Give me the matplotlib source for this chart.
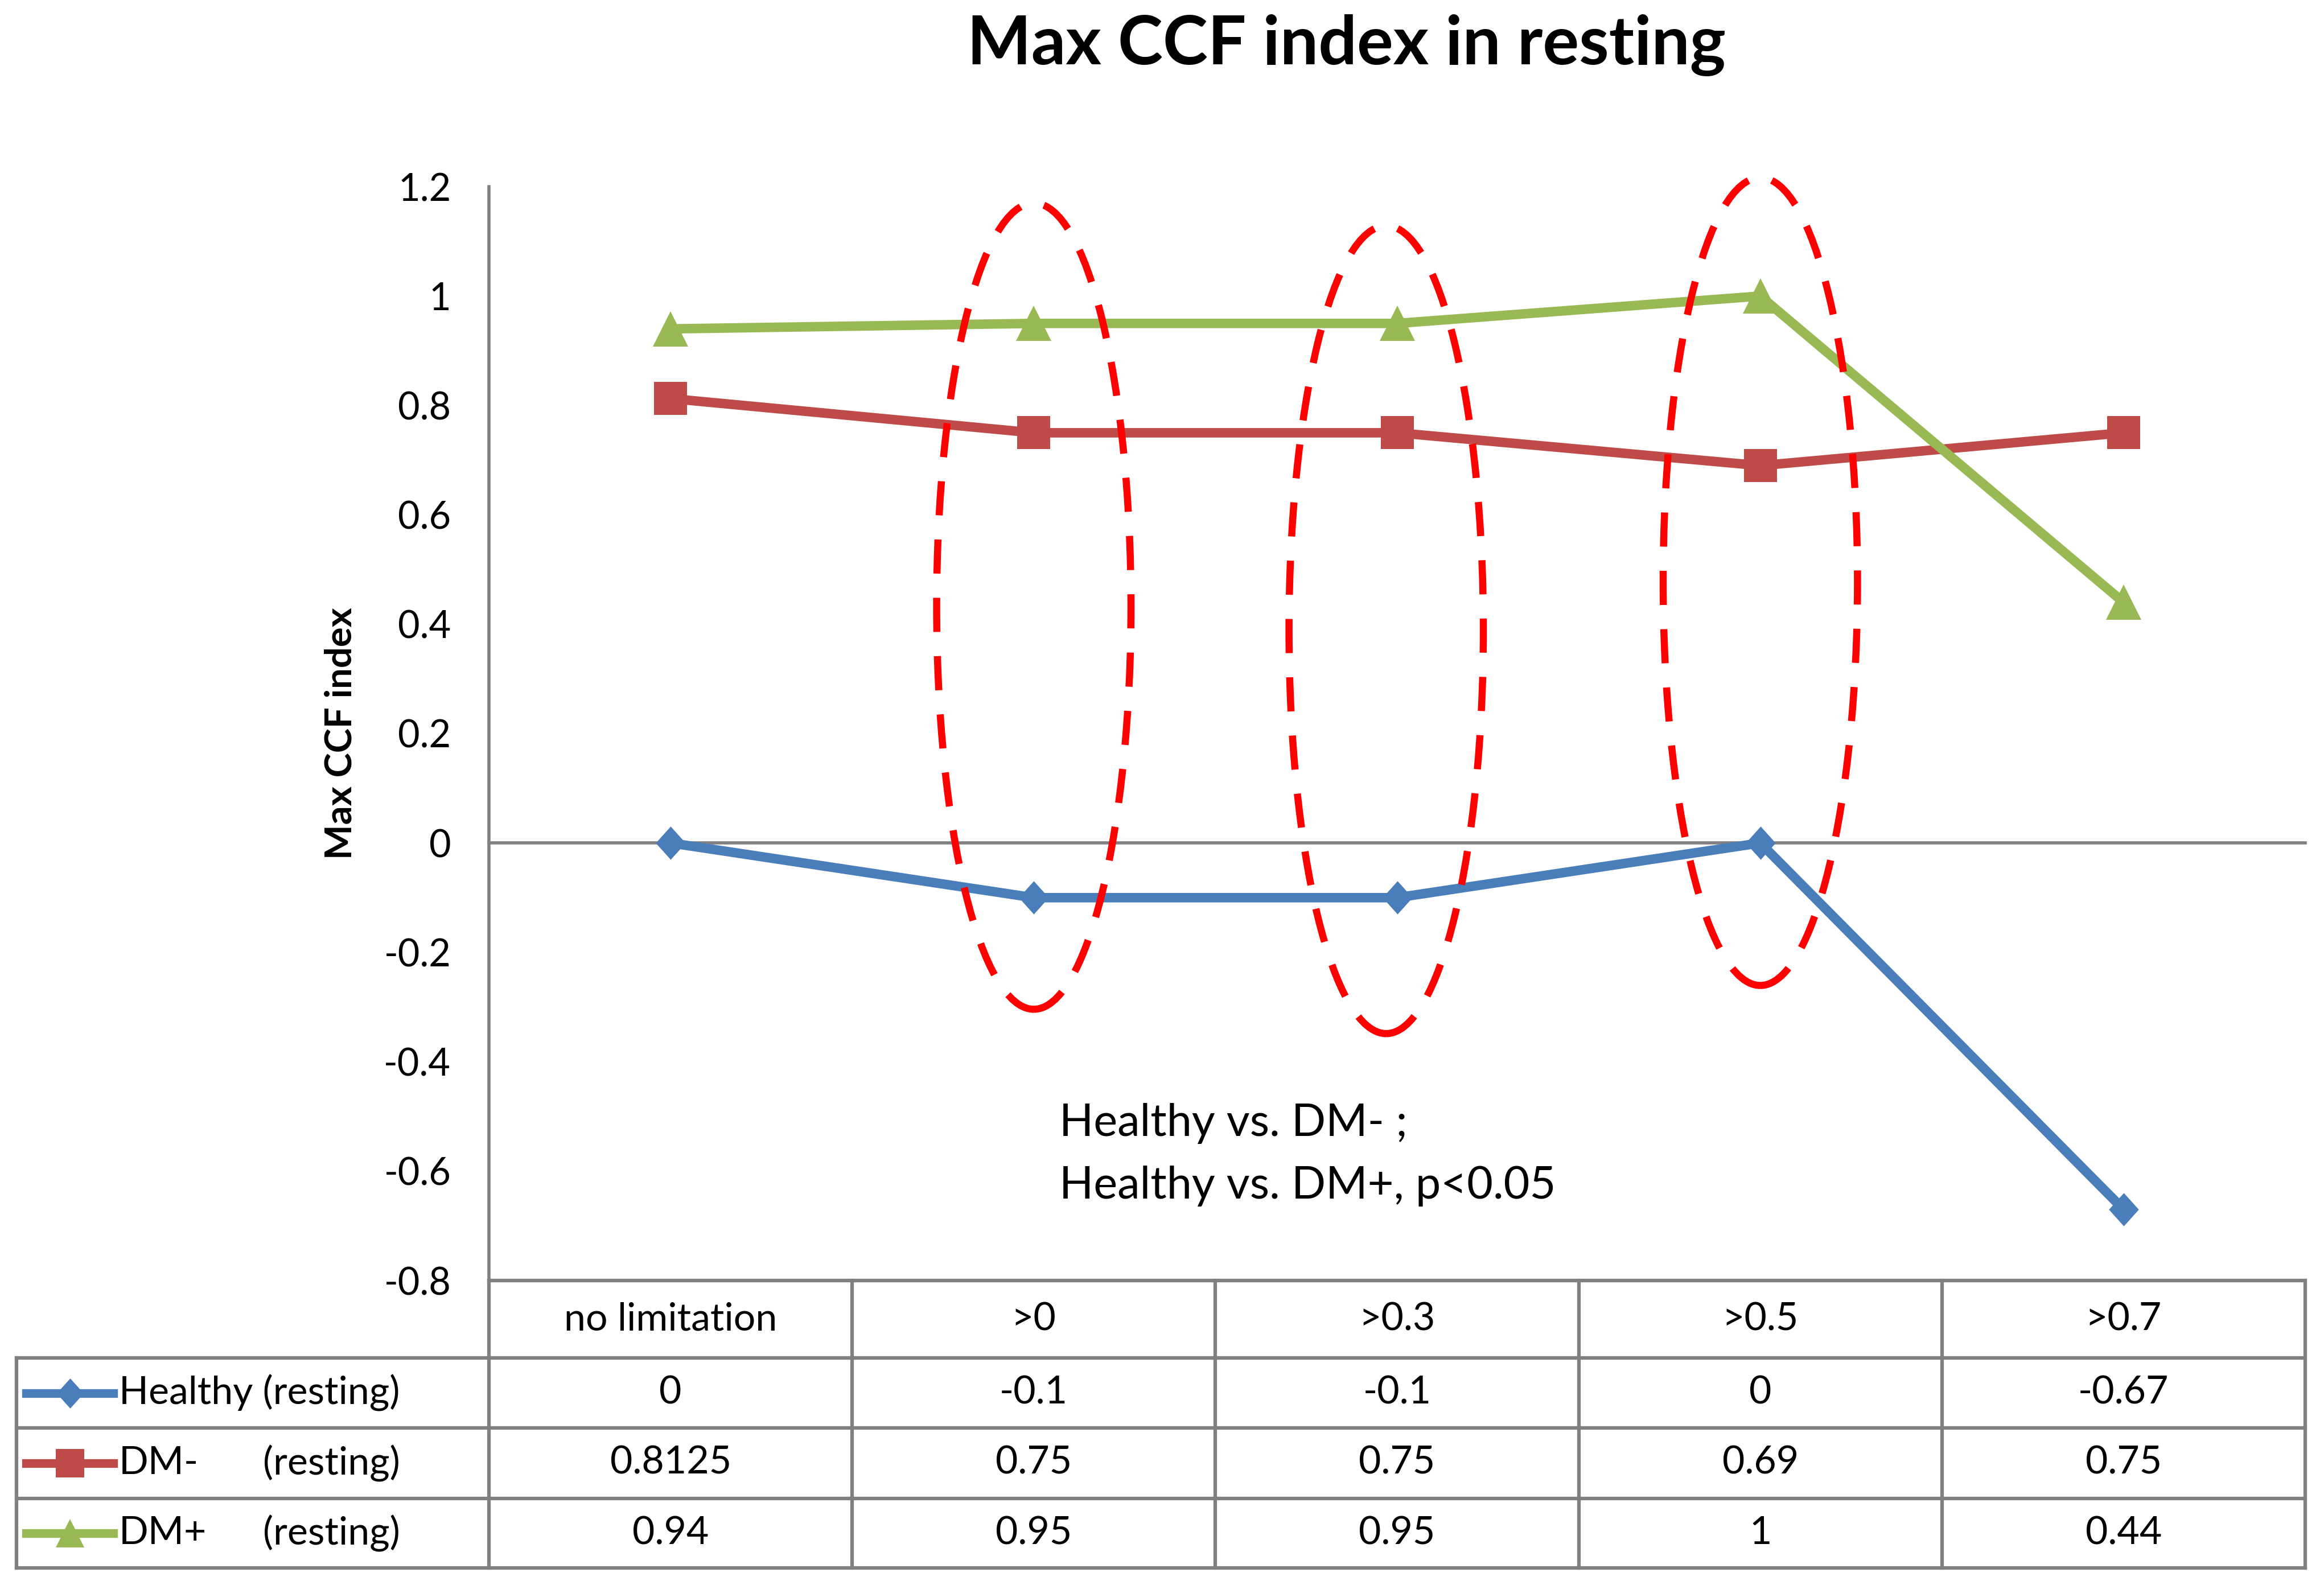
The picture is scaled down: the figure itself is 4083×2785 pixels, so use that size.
import matplotlib
matplotlib.use("Agg")
import matplotlib.pyplot as plt
from matplotlib.patches import Ellipse

plt.rcParams['font.family'] = ['Lato', 'DejaVu Sans']

# ---- data ----
categories = ["no limitation", ">0", ">0.3", ">0.5", ">0.7"]
healthy = [0, -0.1, -0.1, 0, -0.67]
dm_minus = [0.8125, 0.75, 0.75, 0.69, 0.75]
dm_plus = [0.94, 0.95, 0.95, 1, 0.44]
healthy_lbl = ["0", "-0.1", "-0.1", "0", "-0.67"]
dm_minus_lbl = ["0.8125", "0.75", "0.75", "0.69", "0.75"]
dm_plus_lbl = ["0.94", "0.95", "0.95", "1", "0.44"]
yticks = [-0.8, -0.6, -0.4, -0.2, 0, 0.2, 0.4, 0.6, 0.8, 1, 1.2]
ytick_labels = ["-0.8", "-0.6", "-0.4", "-0.2", "0", "0.2", "0.4", "0.6", "0.8", "1", "1.2"]
# highlighted groups (category index, center y, height)
ell_x = [1, 1.97, 3]
ell_y = [0.433, 0.39, 0.478]
ell_h = [1.474, 1.477, 1.477]

C_BLUE = "#4A7EBB"
C_RED = "#BE4B48"
C_GREEN = "#98B954"
GRID = "#808080"

DIAMOND = [(0, 1), (0.9, 0), (0, -1), (-0.9, 0), (0, 1)]

W, H = 4083, 2785
fig = plt.figure(figsize=(W / 100, H / 100), dpi=100)

ax_l, ax_r, ax_t, ax_b = 859, 4050, 328, 2250
ax = fig.add_axes([ax_l / W, 1 - ax_b / H, (ax_r - ax_l) / W, (ax_b - ax_t) / H])
x = list(range(len(categories)))
ax.set_xlim(-0.5, len(categories) - 0.5)
ax.set_ylim(-0.8, 1.2)

LW = 12
ax.plot(x, healthy, color=C_BLUE, lw=LW, marker=DIAMOND, ms=42, mec=C_BLUE, mfc=C_BLUE, mew=0, zorder=3)
ax.plot(x, dm_minus, color=C_RED, lw=LW, marker='s', ms=42, mec=C_RED, mfc=C_RED, mew=0, zorder=3)
ax.plot(x, dm_plus, color=C_GREEN, lw=LW, marker='^', ms=44, mec=C_GREEN, mfc=C_GREEN, mew=0, zorder=3)

for ex, ey, eh in zip(ell_x, ell_y, ell_h):
    e = Ellipse((ex, ey), 0.535, eh, fill=False, edgecolor="#FF0000",
                lw=9, linestyle=(0, (4.8, 3.4)), zorder=4)
    e.set_clip_on(False)
    ax.add_patch(e)

for s in ['top', 'right']:
    ax.spines[s].set_visible(False)
ax.spines['bottom'].set_position(('data', 0))
ax.spines['bottom'].set_color(GRID)
ax.spines['bottom'].set_linewidth(4)
ax.spines['left'].set_color(GRID)
ax.spines['left'].set_linewidth(4)
ax.set_xticks([])
ax.set_yticks(yticks)
ax.set_yticklabels(ytick_labels)
ax.tick_params(axis='y', length=0, pad=48, labelsize=48, labelcolor='black')

ax.text(1.07, -0.513, "Healthy vs. DM- ;", fontsize=57, va='center', ha='left')
ax.text(1.07, -0.627, "Healthy vs. DM+, p<0.05", fontsize=57, va='center', ha='left')

fig.text(599 / W, 1 - (ax_t + ax_b) / 2 / H, "Max CCF index", rotation=90, fontsize=47,
         fontweight='bold', ha='center', va='center')
fig.text(2365 / W, 1 - 80 / H, "Max CCF index in resting", fontsize=86, fontweight='bold',
         ha='center', va='center')

# ---- data table ----
tl, tr, tt, tb = 29, 4050, 2250, 2755
tax = fig.add_axes([tl / W, 1 - tb / H, (tr - tl) / W, (tb - tt) / H])
px_per_cat = (ax_r - ax_l) / len(categories)
left_x = -0.5 - (ax_l - tl) / px_per_cat
tax.set_xlim(left_x, len(categories) - 0.5)
tax.set_ylim(tb - tt, 0)
tax.axis('off')
rows_y = [0, 136, 259, 383, 505]
lw_t = 4.5
tax.plot([-0.5, len(categories) - 0.5], [rows_y[0]] * 2, color=GRID, lw=lw_t, solid_capstyle='projecting', clip_on=False)
for yy in rows_y[1:]:
    tax.plot([left_x, len(categories) - 0.5], [yy, yy], color=GRID, lw=lw_t, solid_capstyle='projecting', clip_on=False)
tax.plot([left_x, left_x], [rows_y[1], rows_y[-1]], color=GRID, lw=lw_t, clip_on=False)
for i in range(len(categories) + 1):
    xx = -0.5 + i
    tax.plot([xx, xx], [rows_y[0], rows_y[-1]], color=GRID, lw=lw_t, clip_on=False)

fs_t = 49
for i, c in enumerate(categories):
    tax.text(i, (rows_y[0] + rows_y[1]) / 2, c, ha='center', va='center', fontsize=fs_t)
series = [("Healthy", healthy_lbl, C_BLUE, DIAMOND, 38),
          ("DM-", dm_minus_lbl, C_RED, 's', 36),
          ("DM+", dm_plus_lbl, C_GREEN, '^', 36)]
for r, (name, vals, col, mk, ms) in enumerate(series):
    yc = (rows_y[r + 1] + rows_y[r + 2]) / 2
    for i, v in enumerate(vals):
        tax.text(i, yc, v, ha='center', va='center', fontsize=fs_t)
    x0 = left_x + (46 - tl) / px_per_cat
    x1 = left_x + (199 - tl) / px_per_cat
    tax.plot([x0, x1], [yc, yc], color=col, lw=11, clip_on=False)
    tax.plot([(x0 + x1) / 2], [yc], marker=mk, ms=ms, color=col, mec=col, mew=0, clip_on=False)
    xt = left_x + (209 - tl) / px_per_cat
    if name == "Healthy":
        tax.text(xt, yc, "Healthy (resting)", ha='left', va='center', fontsize=fs_t)
    else:
        tax.text(xt, yc, name, ha='left', va='center', fontsize=fs_t)
        tax.text(left_x + (462 - tl) / px_per_cat, yc, "(resting)", ha='left', va='center', fontsize=fs_t)

fig.savefig("out.png", dpi=100, facecolor='white')
